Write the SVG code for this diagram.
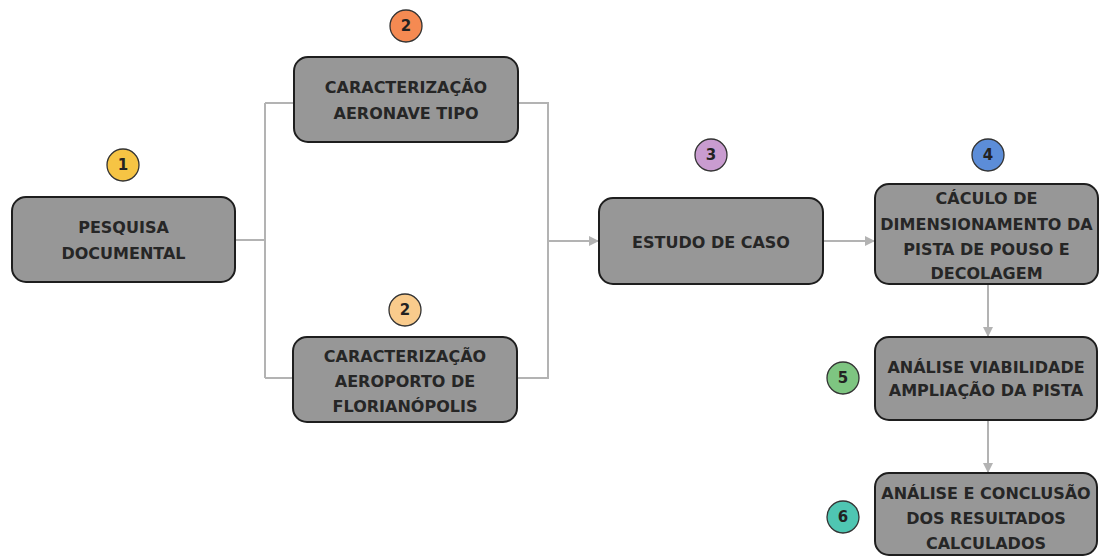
<svg xmlns="http://www.w3.org/2000/svg" width="1101" height="556" viewBox="0 0 1101 556">
<style>
.box{fill:#979797;stroke:#1e1e1e;stroke-width:2}
.lbl{font-family:"DejaVu Sans",sans-serif;font-weight:bold;font-size:16px;fill:#262626;text-anchor:middle;dominant-baseline:central}
.badge{stroke:#333;stroke-width:1.3}
.num{font-family:"DejaVu Sans",sans-serif;font-weight:bold;font-size:15px;fill:#222;text-anchor:middle;dominant-baseline:central}
.con{fill:none;stroke:#b3b3b3;stroke-width:2}
</style>
<defs>
<marker id="arr" viewBox="0 0 10 10" refX="9" refY="5" markerWidth="5" markerHeight="5" orient="auto" markerUnits="strokeWidth">
<path d="M0,0 L10,5 L0,10 z" fill="#b3b3b3"/>
</marker>
</defs>
<rect width="1101" height="556" fill="#ffffff"/>
<g id="connectors">
<path class="con" d="M236,240 H265"/>
<path class="con" d="M265,103 V378"/>
<path class="con" d="M265,103 H294"/>
<path class="con" d="M265,378 H293"/>
<path class="con" d="M518,103 H548 V378 H517"/>
<path class="con" d="M548,241 H598" marker-end="url(#arr)"/>
<path class="con" d="M823,241 H874" marker-end="url(#arr)"/>
<path class="con" d="M988,285 V336" marker-end="url(#arr)"/>
<path class="con" d="M988,421 V472" marker-end="url(#arr)"/>
</g>
<g id="node1">
<rect class="box" x="12" y="197" width="223" height="85" rx="14"/>
<text class="lbl" x="123.5" y="227">PESQUISA</text>
<text class="lbl" x="123.5" y="253">DOCUMENTAL</text>
<circle class="badge" cx="123" cy="165" r="16" fill="#F6C444"/>
<text class="num" x="123" y="165">1</text>
</g>
<g id="node2a">
<rect class="box" x="294" y="57" width="224" height="85" rx="14"/>
<text class="lbl" x="406" y="87">CARACTERIZAÇÃO</text>
<text class="lbl" x="406" y="113">AERONAVE TIPO</text>
<circle class="badge" cx="406" cy="26" r="16" fill="#F58A52"/>
<text class="num" x="406" y="26">2</text>
</g>
<g id="node2b">
<rect class="box" x="293" y="337" width="224" height="85" rx="14"/>
<text class="lbl" x="405" y="356">CARACTERIZAÇÃO</text>
<text class="lbl" x="405" y="381">AEROPORTO DE</text>
<text class="lbl" x="405" y="406">FLORIANÓPOLIS</text>
<circle class="badge" cx="405" cy="310" r="16" fill="#F9CB8C"/>
<text class="num" x="405" y="310">2</text>
</g>
<g id="node3">
<rect class="box" x="599" y="198" width="224" height="86" rx="14"/>
<text class="lbl" x="711" y="242">ESTUDO DE CASO</text>
<circle class="badge" cx="711" cy="155" r="16" fill="#C99CD0"/>
<text class="num" x="711" y="155">3</text>
</g>
<g id="node4">
<rect class="box" x="875" y="184" width="223" height="100" rx="14"/>
<text class="lbl" x="986.5" y="198">CÁCULO DE</text>
<text class="lbl" x="986.5" y="224">DIMENSIONAMENTO DA</text>
<text class="lbl" x="986.5" y="249">PISTA DE POUSO E</text>
<text class="lbl" x="986.5" y="273">DECOLAGEM</text>
<circle class="badge" cx="988" cy="155" r="16" fill="#5C8DD8"/>
<text class="num" x="988" y="155">4</text>
</g>
<g id="node5">
<rect class="box" x="875" y="337" width="222" height="83" rx="14"/>
<text class="lbl" x="986" y="367">ANÁLISE VIABILIDADE</text>
<text class="lbl" x="986" y="390">AMPLIAÇÃO DA PISTA</text>
<circle class="badge" cx="843" cy="378" r="16" fill="#7EC581"/>
<text class="num" x="843" y="378">5</text>
</g>
<g id="node6">
<rect class="box" x="875" y="473" width="222" height="82" rx="14"/>
<text class="lbl" x="986" y="493">ANÁLISE E CONCLUSÃO</text>
<text class="lbl" x="986" y="518">DOS RESULTADOS</text>
<text class="lbl" x="986" y="543">CALCULADOS</text>
<circle class="badge" cx="843" cy="517" r="16" fill="#4FC6B2"/>
<text class="num" x="843" y="517">6</text>
</g>
</svg>
